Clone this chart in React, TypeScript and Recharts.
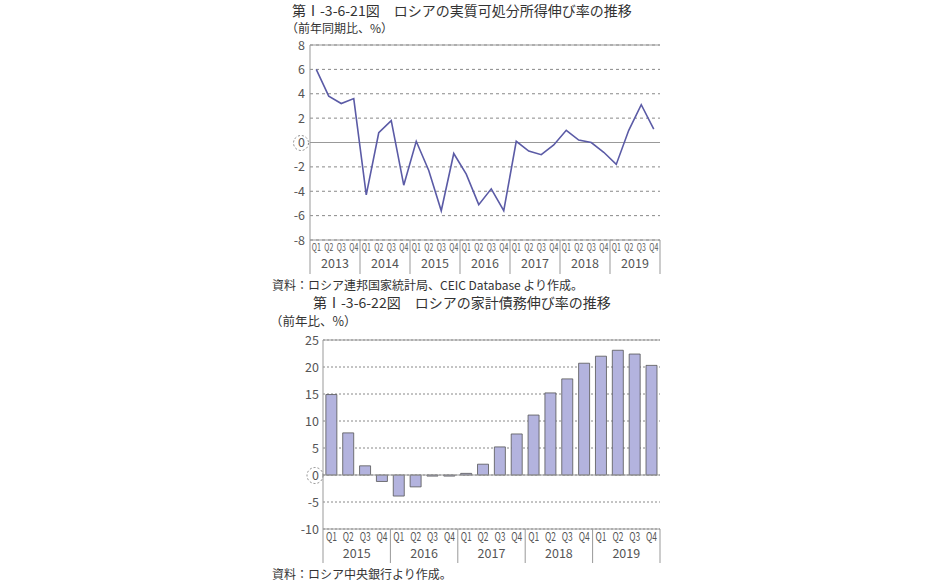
import React from 'react';
import { LineChart, Line, BarChart, Bar, XAxis, YAxis, CartesianGrid, ReferenceLine } from 'recharts';

const quarters = ['Q1', 'Q2', 'Q3', 'Q4'];

const incomeYears = ['2013', '2014', '2015', '2016', '2017', '2018', '2019'];
const incomeGrowth = [
  6.0, 3.8, 3.2, 3.6,
  -4.3, 0.8, 1.8, -3.5,
  0.1, -2.3, -5.6, -0.9,
  -2.6, -5.1, -3.8, -5.6,
  0.1, -0.7, -1.0, -0.2,
  1.0, 0.2, 0.0, -0.8,
  -1.8, 1.0, 3.1, 1.1,
];
const incomeTicks = [-8, -6, -4, -2, 0, 2, 4, 6, 8];

const debtYears = ['2015', '2016', '2017', '2018', '2019'];
const debtGrowth = [
  14.9, 7.8, 1.7, -1.2,
  -3.9, -2.2, -0.2, -0.2,
  0.3, 2.0, 5.2, 7.6,
  11.1, 15.2, 17.8, 20.7,
  22.0, 23.1, 22.4, 20.3,
];
const debtTicks = [-10, -5, 0, 5, 10, 15, 20, 25];

const incomeData = incomeYears.flatMap((y, i) =>
  quarters.map((q, j) => ({ q, year: y, value: incomeGrowth[i * 4 + j] }))
);
const debtData = debtYears.flatMap((y, i) =>
  quarters.map((q, j) => ({ q, year: y, value: debtGrowth[i * 4 + j] }))
);

const FONT = '"Noto Sans CJK JP", "Noto Sans", sans-serif';
const GRAY = '#999';
const TEXT = '#555';

// plot widths / band sizes
const BAND1 = 350 / incomeData.length;
const BAND2 = 337 / debtData.length;

const makeQuarterTick = (band: number, years: string[], total: number, o: any) => (props: any) => {
  const { x, y, payload, index } = props;
  const half = band / 2;
  return (
    <g>
      <text x={x} y={y + o.qy} textAnchor="middle" fontSize={o.qSize} fill={TEXT} fontFamily={FONT}
        textLength={o.qLen} lengthAdjust="spacingAndGlyphs">
        {payload.value}
      </text>
      {index % 4 === 0 && (
        <>
          <line x1={x - half} x2={x - half} y1={y} y2={y + o.sep} stroke={GRAY} />
          <text x={x + band * 1.5} y={y + o.yy} textAnchor="middle" fontSize={12.5} fill={TEXT} fontFamily={FONT}>
            {years[index / 4]}
          </text>
        </>
      )}
      {index === total - 1 && <line x1={x + half} x2={x + half} y1={y} y2={y + o.sep} stroke={GRAY} />}
    </g>
  );
};

const makeYTick = (r: number) => (props: any) => {
  const { x, y, payload } = props;
  return (
    <g>
      <text x={x} y={y + 4.5} textAnchor="end" fontSize={12.5} fill={TEXT} fontFamily={FONT}>
        {payload.value}
      </text>
      {payload.value === 0 && (
        <circle cx={x - 4} cy={y + 0.5} r={r} fill="none" stroke="#888" strokeDasharray="2 2" />
      )}
    </g>
  );
};

const label = (left: number, top: number, size: number, text: string) => (
  <div style={{ position: 'absolute', left, top, fontSize: size, lineHeight: `${size}px`, whiteSpace: 'nowrap', color: '#333' }}>
    {text}
  </div>
);

export default function App() {
  return (
    <div style={{ position: 'absolute', left: 0, top: 0, width: 927, height: 581, background: '#fff', fontFamily: FONT }}>
      {label(292, 3, 14, '第Ⅰ-3-6-21図　ロシアの実質可処分所得伸び率の推移')}
      {label(286, 22, 12, '（前年同期比、%）')}
      {label(272, 279, 12, '資料：ロシア連邦国家統計局、CEIC Database より作成。')}
      {label(313, 295, 14, '第Ⅰ-3-6-22図　ロシアの家計債務伸び率の推移')}
      {label(270, 315, 12.5, '（前年比、%）')}
      {label(272, 568, 12, '資料：ロシア中央銀行より作成。')}

      <div style={{ position: 'absolute', left: 0, top: 0 }}>
        <LineChart width={927} height={290} data={incomeData} margin={{ top: 45, right: 267, bottom: 10, left: 270 }}>
          <CartesianGrid vertical={false} stroke="#888" strokeDasharray="3 3" />
          <XAxis
            dataKey="q"
            height={40}
            interval={0}
            padding={{ left: BAND1 / 2, right: BAND1 / 2 }}
            axisLine={{ stroke: GRAY }}
            tickLine={false}
            tickSize={0}
            tickMargin={0}
            tick={makeQuarterTick(BAND1, incomeYears, incomeData.length, { qy: 11, qSize: 10.5, qLen: 9, yy: 28, sep: 34 })}
          />
          <YAxis
            width={40}
            domain={[-8, 8]}
            ticks={incomeTicks}
            interval={0}
            axisLine={{ stroke: GRAY }}
            tickLine={false}
            tickSize={0}
            tickMargin={5}
            tick={makeYTick(7.5)}
          />
          <YAxis yAxisId="r" orientation="right" width={0} tick={false} tickLine={false} axisLine={{ stroke: GRAY }} />
          <ReferenceLine y={0} stroke={GRAY} strokeWidth={1.2} />
          <ReferenceLine y={8} stroke={GRAY} />
          <Line dataKey="value" stroke="#5b5ba6" strokeWidth={1.6} dot={false} isAnimationActive={false} />
        </LineChart>
      </div>

      <div style={{ position: 'absolute', left: 0, top: 290 }}>
        <BarChart width={927} height={291} data={debtData} barCategoryGap="17%" margin={{ top: 50, right: 267, bottom: 12, left: 283 }}>
          <CartesianGrid vertical={false} stroke="#888" strokeDasharray="2 2" />
          <XAxis
            dataKey="q"
            height={40}
            interval={0}
            axisLine={{ stroke: GRAY }}
            tickLine={false}
            tickSize={0}
            tickMargin={0}
            tick={makeQuarterTick(BAND2, debtYears, debtData.length, { qy: 12, qSize: 12, qLen: 11, yy: 29, sep: 34 })}
          />
          <YAxis
            width={40}
            domain={[-10, 25]}
            ticks={debtTicks}
            interval={0}
            axisLine={{ stroke: GRAY }}
            tickLine={false}
            tickSize={0}
            tickMargin={4}
            tick={makeYTick(8)}
          />
          <YAxis yAxisId="r" orientation="right" width={0} tick={false} tickLine={false} axisLine={{ stroke: GRAY }} />
          <ReferenceLine y={25} stroke={GRAY} />
          <Bar dataKey="value" fill="#b3b3de" stroke="#555" strokeWidth={0.8} isAnimationActive={false} />
          <ReferenceLine y={0} stroke={GRAY} strokeWidth={1.2} />
        </BarChart>
      </div>
    </div>
  );
}
